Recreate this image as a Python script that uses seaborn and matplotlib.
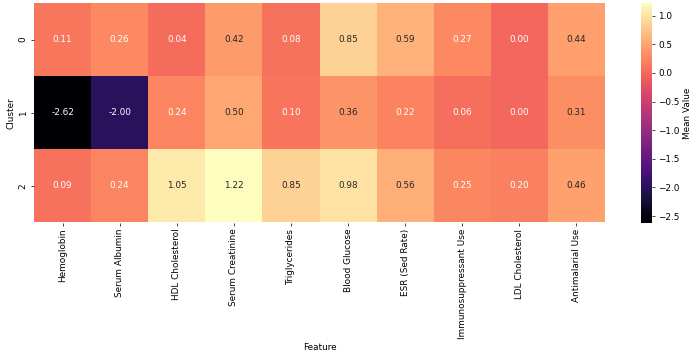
import pandas as pd
import numpy as np
import seaborn as sns
import matplotlib.pyplot as plt

features = ["Hemoglobin", "Serum Albumin", "HDL Cholesterol", "Serum Creatinine",
            "Triglycerides", "Blood Glucose", "ESR (Sed Rate)", "Immunosuppressant Use",
            "LDL Cholesterol", "Antimalarial Use"]
clusters = [0, 1, 2]
cluster0 = [0.11, 0.26, 0.04, 0.42, 0.08, 0.85, 0.59, 0.27, 0.00, 0.44]
cluster1 = [-2.62, -2.00, 0.24, 0.50, 0.10, 0.36, 0.22, 0.06, 0.00, 0.31]
cluster2 = [0.09, 0.24, 1.05, 1.22, 0.85, 0.98, 0.56, 0.25, 0.20, 0.46]

df = pd.DataFrame([cluster0, cluster1, cluster2], index=clusters, columns=features)
df.index.name = "Cluster"
df.columns.name = "Feature"

W, H = 696, 358
dpi = 64
fig = plt.figure(figsize=(W / dpi, H / dpi), dpi=dpi)
ax = fig.add_axes([34 / W, 1 - 222.5 / H, (605 - 34) / W, 219.5 / H])
cax = fig.add_axes([641 / W, 1 - 223 / H, 11 / W, 220 / H])
sns.heatmap(df, annot=True, fmt=".2f", cmap="magma", ax=ax, cbar_ax=cax,
            cbar_kws={"label": "Mean Value"})
ax.set_xlabel("Feature")
ax.set_ylabel("Cluster")

fig.savefig("out.png", dpi=dpi)
